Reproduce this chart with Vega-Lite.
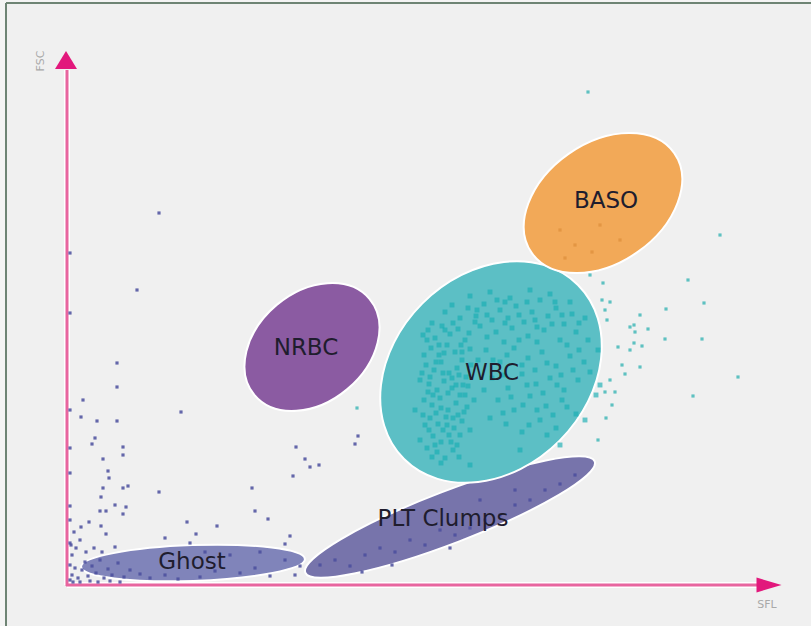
{
 "$schema": "https://vega.github.io/schema/vega-lite/v6.json",
 "width": 805, "height": 623,
 "autosize": {"type": "none"},
 "padding": {"left": 6, "top": 3, "right": 0, "bottom": 0},
 "background": "#f4f4f4",
 "config": {"view": {"stroke": null, "fill": "#f0f0f0"}},
 "datasets": {
  "ellipses": [
   {"population": "Ghost", "sfl": 126, "fsc": 22},
   {"population": "PLT Clumps", "sfl": 383, "fsc": 68},
   {"population": "NRBC", "sfl": 245, "fsc": 238},
   {"population": "WBC", "sfl": 424, "fsc": 213},
   {"population": "BASO", "sfl": 536, "fsc": 382}
  ],
  "labels": [
   {"label": "BASO", "sfl": 539, "fsc": 384},
   {"label": "WBC", "sfl": 425, "fsc": 212},
   {"label": "NRBC", "sfl": 239, "fsc": 237},
   {"label": "PLT Clumps", "sfl": 376, "fsc": 66},
   {"label": "Ghost", "sfl": 125, "fsc": 23}
  ],
  "events": [
   {"sfl":361,"fsc":255,"pop":"WBC"},{"sfl":368,"fsc":247,"pop":"WBC"},{"sfl":375,"fsc":259,"pop":"WBC"},{"sfl":383,"fsc":251,"pop":"WBC"},{"sfl":391,"fsc":256,"pop":"WBC"},{"sfl":398,"fsc":245,"pop":"WBC"},{"sfl":364,"fsc":237,"pop":"WBC"},{"sfl":372,"fsc":230,"pop":"WBC"},{"sfl":380,"fsc":240,"pop":"WBC"},{"sfl":388,"fsc":233,"pop":"WBC"},{"sfl":395,"fsc":225,"pop":"WBC"},{"sfl":403,"fsc":236,"pop":"WBC"},{"sfl":359,"fsc":220,"pop":"WBC"},{"sfl":367,"fsc":215,"pop":"WBC"},{"sfl":374,"fsc":223,"pop":"WBC"},{"sfl":382,"fsc":212,"pop":"WBC"},{"sfl":390,"fsc":217,"pop":"WBC"},{"sfl":399,"fsc":208,"pop":"WBC"},{"sfl":362,"fsc":201,"pop":"WBC"},{"sfl":370,"fsc":195,"pop":"WBC"},{"sfl":377,"fsc":204,"pop":"WBC"},{"sfl":385,"fsc":197,"pop":"WBC"},{"sfl":393,"fsc":190,"pop":"WBC"},{"sfl":401,"fsc":199,"pop":"WBC"},{"sfl":357,"fsc":185,"pop":"WBC"},{"sfl":365,"fsc":180,"pop":"WBC"},{"sfl":373,"fsc":187,"pop":"WBC"},{"sfl":381,"fsc":175,"pop":"WBC"},{"sfl":389,"fsc":182,"pop":"WBC"},{"sfl":397,"fsc":173,"pop":"WBC"},{"sfl":363,"fsc":167,"pop":"WBC"},{"sfl":371,"fsc":161,"pop":"WBC"},{"sfl":379,"fsc":168,"pop":"WBC"},{"sfl":387,"fsc":157,"pop":"WBC"},{"sfl":395,"fsc":164,"pop":"WBC"},{"sfl":366,"fsc":149,"pop":"WBC"},{"sfl":374,"fsc":143,"pop":"WBC"},{"sfl":382,"fsc":150,"pop":"WBC"},{"sfl":390,"fsc":140,"pop":"WBC"},{"sfl":370,"fsc":133,"pop":"WBC"},{"sfl":378,"fsc":127,"pop":"WBC"},{"sfl":386,"fsc":135,"pop":"WBC"},{"sfl":358,"fsc":160,"pop":"WBC"},{"sfl":403,"fsc":155,"pop":"WBC"},{"sfl":353,"fsc":205,"pop":"WBC"},{"sfl":407,"fsc":185,"pop":"WBC"},
   {"sfl":378,"fsc":273,"pop":"WBC"},{"sfl":385,"fsc":280,"pop":"WBC"},{"sfl":393,"fsc":267,"pop":"WBC"},{"sfl":401,"fsc":277,"pop":"WBC"},{"sfl":409,"fsc":269,"pop":"WBC"},{"sfl":417,"fsc":281,"pop":"WBC"},{"sfl":425,"fsc":265,"pop":"WBC"},{"sfl":433,"fsc":275,"pop":"WBC"},{"sfl":441,"fsc":267,"pop":"WBC"},{"sfl":449,"fsc":279,"pop":"WBC"},{"sfl":457,"fsc":263,"pop":"WBC"},{"sfl":465,"fsc":273,"pop":"WBC"},{"sfl":473,"fsc":285,"pop":"WBC"},{"sfl":481,"fsc":269,"pop":"WBC"},{"sfl":489,"fsc":277,"pop":"WBC"},{"sfl":497,"fsc":261,"pop":"WBC"},{"sfl":505,"fsc":271,"pop":"WBC"},{"sfl":413,"fsc":259,"pop":"WBC"},{"sfl":429,"fsc":253,"pop":"WBC"},{"sfl":445,"fsc":257,"pop":"WBC"},{"sfl":461,"fsc":249,"pop":"WBC"},{"sfl":477,"fsc":255,"pop":"WBC"},{"sfl":493,"fsc":245,"pop":"WBC"},{"sfl":509,"fsc":253,"pop":"WBC"},{"sfl":403,"fsc":289,"pop":"WBC"},{"sfl":423,"fsc":293,"pop":"WBC"},{"sfl":443,"fsc":287,"pop":"WBC"},{"sfl":463,"fsc":295,"pop":"WBC"},{"sfl":483,"fsc":291,"pop":"WBC"},{"sfl":503,"fsc":283,"pop":"WBC"},{"sfl":518,"fsc":267,"pop":"WBC"},{"sfl":521,"fsc":245,"pop":"WBC"},
   {"sfl":419,"fsc":235,"pop":"WBC"},{"sfl":433,"fsc":223,"pop":"WBC"},{"sfl":447,"fsc":237,"pop":"WBC"},{"sfl":461,"fsc":227,"pop":"WBC"},{"sfl":475,"fsc":233,"pop":"WBC"},{"sfl":489,"fsc":219,"pop":"WBC"},{"sfl":503,"fsc":229,"pop":"WBC"},{"sfl":517,"fsc":223,"pop":"WBC"},{"sfl":425,"fsc":207,"pop":"WBC"},{"sfl":441,"fsc":197,"pop":"WBC"},{"sfl":455,"fsc":211,"pop":"WBC"},{"sfl":469,"fsc":201,"pop":"WBC"},{"sfl":483,"fsc":207,"pop":"WBC"},{"sfl":497,"fsc":195,"pop":"WBC"},{"sfl":511,"fsc":205,"pop":"WBC"},{"sfl":431,"fsc":185,"pop":"WBC"},{"sfl":447,"fsc":175,"pop":"WBC"},{"sfl":463,"fsc":189,"pop":"WBC"},{"sfl":479,"fsc":179,"pop":"WBC"},{"sfl":495,"fsc":185,"pop":"WBC"},{"sfl":509,"fsc":171,"pop":"WBC"},{"sfl":439,"fsc":161,"pop":"WBC"},{"sfl":455,"fsc":153,"pop":"WBC"},{"sfl":473,"fsc":165,"pop":"WBC"},{"sfl":489,"fsc":157,"pop":"WBC"},{"sfl":523,"fsc":213,"pop":"WBC"},{"sfl":529,"fsc":190,"pop":"WBC"},{"sfl":411,"fsc":225,"pop":"WBC"},{"sfl":417,"fsc":195,"pop":"WBC"},{"sfl":423,"fsc":167,"pop":"WBC"},
   {"sfl":353,"fsc":145,"pop":"WBC"},{"sfl":348,"fsc":175,"pop":"WBC"},{"sfl":403,"fsc":120,"pop":"WBC"},{"sfl":453,"fsc":135,"pop":"WBC"},{"sfl":493,"fsc":140,"pop":"WBC"},{"sfl":518,"fsc":165,"pop":"WBC"},{"sfl":533,"fsc":200,"pop":"WBC"},{"sfl":531,"fsc":235,"pop":"WBC"},
   {"sfl":360,"fsc":245,"pop":"WBC"},{"sfl":378,"fsc":255,"pop":"WBC"},{"sfl":369,"fsc":223,"pop":"WBC"},{"sfl":385,"fsc":207,"pop":"WBC"},{"sfl":374,"fsc":177,"pop":"WBC"},{"sfl":391,"fsc":170,"pop":"WBC"},{"sfl":361,"fsc":193,"pop":"WBC"},{"sfl":380,"fsc":160,"pop":"WBC"},{"sfl":398,"fsc":190,"pop":"WBC"},{"sfl":395,"fsc":233,"pop":"WBC"},{"sfl":408,"fsc":263,"pop":"WBC"},{"sfl":438,"fsc":283,"pop":"WBC"},{"sfl":468,"fsc":265,"pop":"WBC"},{"sfl":485,"fsc":261,"pop":"WBC"},
   {"sfl":356,"fsc":250,"pop":"WBC"},{"sfl":365,"fsc":262,"pop":"WBC"},{"sfl":372,"fsc":240,"pop":"WBC"},{"sfl":386,"fsc":262,"pop":"WBC"},{"sfl":394,"fsc":240,"pop":"WBC"},{"sfl":402,"fsc":252,"pop":"WBC"},{"sfl":357,"fsc":230,"pop":"WBC"},{"sfl":377,"fsc":232,"pop":"WBC"},{"sfl":392,"fsc":210,"pop":"WBC"},{"sfl":404,"fsc":220,"pop":"WBC"},{"sfl":355,"fsc":212,"pop":"WBC"},{"sfl":363,"fsc":208,"pop":"WBC"},{"sfl":376,"fsc":212,"pop":"WBC"},{"sfl":396,"fsc":200,"pop":"WBC"},{"sfl":366,"fsc":190,"pop":"WBC"},{"sfl":381,"fsc":192,"pop":"WBC"},{"sfl":389,"fsc":200,"pop":"WBC"},{"sfl":356,"fsc":170,"pop":"WBC"},{"sfl":369,"fsc":172,"pop":"WBC"},{"sfl":386,"fsc":167,"pop":"WBC"},{"sfl":400,"fsc":178,"pop":"WBC"},{"sfl":362,"fsc":155,"pop":"WBC"},{"sfl":376,"fsc":155,"pop":"WBC"},{"sfl":393,"fsc":150,"pop":"WBC"},{"sfl":368,"fsc":140,"pop":"WBC"},{"sfl":384,"fsc":143,"pop":"WBC"},{"sfl":360,"fsc":137,"pop":"WBC"},{"sfl":374,"fsc":122,"pop":"WBC"},{"sfl":392,"fsc":128,"pop":"WBC"},{"sfl":365,"fsc":128,"pop":"WBC"},{"sfl":410,"fsc":275,"pop":"WBC"},{"sfl":420,"fsc":270,"pop":"WBC"},{"sfl":430,"fsc":285,"pop":"WBC"},{"sfl":438,"fsc":262,"pop":"WBC"},{"sfl":452,"fsc":270,"pop":"WBC"},{"sfl":460,"fsc":283,"pop":"WBC"},{"sfl":470,"fsc":258,"pop":"WBC"},{"sfl":488,"fsc":283,"pop":"WBC"},{"sfl":495,"fsc":270,"pop":"WBC"},{"sfl":512,"fsc":262,"pop":"WBC"},{"sfl":420,"fsc":248,"pop":"WBC"},{"sfl":437,"fsc":243,"pop":"WBC"},{"sfl":452,"fsc":245,"pop":"WBC"},{"sfl":470,"fsc":243,"pop":"WBC"},{"sfl":500,"fsc":240,"pop":"WBC"},{"sfl":512,"fsc":235,"pop":"WBC"},{"sfl":426,"fsc":225,"pop":"WBC"},{"sfl":440,"fsc":230,"pop":"WBC"},{"sfl":455,"fsc":220,"pop":"WBC"},{"sfl":468,"fsc":215,"pop":"WBC"},{"sfl":480,"fsc":222,"pop":"WBC"},{"sfl":494,"fsc":210,"pop":"WBC"},{"sfl":506,"fsc":215,"pop":"WBC"},{"sfl":436,"fsc":210,"pop":"WBC"},{"sfl":460,"fsc":200,"pop":"WBC"},{"sfl":476,"fsc":192,"pop":"WBC"},{"sfl":490,"fsc":200,"pop":"WBC"},{"sfl":444,"fsc":188,"pop":"WBC"},{"sfl":456,"fsc":180,"pop":"WBC"},{"sfl":470,"fsc":175,"pop":"WBC"},{"sfl":486,"fsc":170,"pop":"WBC"},{"sfl":500,"fsc":178,"pop":"WBC"},{"sfl":436,"fsc":172,"pop":"WBC"},{"sfl":462,"fsc":160,"pop":"WBC"},{"sfl":480,"fsc":150,"pop":"WBC"},
   {"sfl":653,"fsc":350,"pop":"WBC scatter"},{"sfl":621,"fsc":305,"pop":"WBC scatter"},{"sfl":637,"fsc":282,"pop":"WBC scatter"},{"sfl":599,"fsc":276,"pop":"WBC scatter"},{"sfl":573,"fsc":270,"pop":"WBC scatter"},{"sfl":581,"fsc":256,"pop":"WBC scatter"},{"sfl":567,"fsc":260,"pop":"WBC scatter"},{"sfl":563,"fsc":258,"pop":"WBC scatter"},{"sfl":568,"fsc":253,"pop":"WBC scatter"},{"sfl":598,"fsc":246,"pop":"WBC scatter"},{"sfl":635,"fsc":246,"pop":"WBC scatter"},{"sfl":575,"fsc":239,"pop":"WBC scatter"},{"sfl":567,"fsc":242,"pop":"WBC scatter"},{"sfl":551,"fsc":238,"pop":"WBC scatter"},{"sfl":555,"fsc":220,"pop":"WBC scatter"},{"sfl":573,"fsc":218,"pop":"WBC scatter"},{"sfl":558,"fsc":211,"pop":"WBC scatter"},{"sfl":543,"fsc":205,"pop":"WBC scatter"},{"sfl":671,"fsc":208,"pop":"WBC scatter"},{"sfl":626,"fsc":189,"pop":"WBC scatter"},{"sfl":538,"fsc":193,"pop":"WBC scatter"},{"sfl":548,"fsc":193,"pop":"WBC scatter"},{"sfl":536,"fsc":302,"pop":"WBC scatter"},{"sfl":543,"fsc":283,"pop":"WBC scatter"},{"sfl":535,"fsc":285,"pop":"WBC scatter"},{"sfl":540,"fsc":265,"pop":"WBC scatter"},{"sfl":538,"fsc":275,"pop":"WBC scatter"},{"sfl":523,"fsc":310,"pop":"WBC scatter"},{"sfl":521,"fsc":493,"pop":"WBC scatter"},{"sfl":290,"fsc":177,"pop":"WBC scatter"},{"sfl":545,"fsc":180,"pop":"WBC scatter"},{"sfl":539,"fsc":167,"pop":"WBC scatter"},{"sfl":531,"fsc":145,"pop":"WBC scatter"},{"sfl":563,"fsc":235,"pop":"WBC scatter"},
   {"sfl":493,"fsc":355,"pop":"BASO"},{"sfl":508,"fsc":340,"pop":"BASO"},{"sfl":525,"fsc":333,"pop":"BASO"},{"sfl":553,"fsc":345,"pop":"BASO"},{"sfl":498,"fsc":327,"pop":"BASO"},{"sfl":533,"fsc":360,"pop":"BASO"},
   {"sfl":50,"fsc":198,"pop":"Debris"},{"sfl":16,"fsc":185,"pop":"Debris"},{"sfl":14,"fsc":168,"pop":"Debris"},{"sfl":30,"fsc":164,"pop":"Debris"},{"sfl":50,"fsc":164,"pop":"Debris"},{"sfl":114,"fsc":173,"pop":"Debris"},{"sfl":28,"fsc":147,"pop":"Debris"},{"sfl":25,"fsc":141,"pop":"Debris"},{"sfl":56,"fsc":138,"pop":"Debris"},{"sfl":56,"fsc":130,"pop":"Debris"},{"sfl":36,"fsc":126,"pop":"Debris"},{"sfl":41,"fsc":114,"pop":"Debris"},{"sfl":42,"fsc":107,"pop":"Debris"},{"sfl":36,"fsc":97,"pop":"Debris"},{"sfl":56,"fsc":97,"pop":"Debris"},{"sfl":61,"fsc":99,"pop":"Debris"},{"sfl":34,"fsc":88,"pop":"Debris"},{"sfl":48,"fsc":80,"pop":"Debris"},{"sfl":59,"fsc":78,"pop":"Debris"},{"sfl":33,"fsc":74,"pop":"Debris"},{"sfl":39,"fsc":74,"pop":"Debris"},{"sfl":56,"fsc":71,"pop":"Debris"},{"sfl":22,"fsc":63,"pop":"Debris"},{"sfl":14,"fsc":58,"pop":"Debris"},{"sfl":34,"fsc":59,"pop":"Debris"},{"sfl":39,"fsc":51,"pop":"Debris"},{"sfl":92,"fsc":93,"pop":"Debris"},{"sfl":120,"fsc":63,"pop":"Debris"},{"sfl":129,"fsc":51,"pop":"Debris"},{"sfl":150,"fsc":59,"pop":"Debris"},{"sfl":98,"fsc":47,"pop":"Debris"},{"sfl":123,"fsc":42,"pop":"Debris"},{"sfl":48,"fsc":38,"pop":"Debris"},{"sfl":185,"fsc":97,"pop":"Debris"},{"sfl":188,"fsc":74,"pop":"Debris"},{"sfl":201,"fsc":66,"pop":"Debris"},{"sfl":229,"fsc":138,"pop":"Debris"},{"sfl":238,"fsc":126,"pop":"Debris"},{"sfl":243,"fsc":118,"pop":"Debris"},{"sfl":252,"fsc":120,"pop":"Debris"},{"sfl":226,"fsc":109,"pop":"Debris"},{"sfl":288,"fsc":141,"pop":"Debris"},{"sfl":291,"fsc":149,"pop":"Debris"},{"sfl":223,"fsc":49,"pop":"Debris"},{"sfl":218,"fsc":41,"pop":"Debris"},{"sfl":92,"fsc":372,"pop":"Debris"},{"sfl":70,"fsc":295,"pop":"Debris"},{"sfl":50,"fsc":222,"pop":"Debris"},
   {"sfl":3,"fsc":332,"pop":"Debris"},{"sfl":3,"fsc":272,"pop":"Debris"},{"sfl":3,"fsc":175,"pop":"Debris"},{"sfl":3,"fsc":137,"pop":"Debris"},{"sfl":3,"fsc":112,"pop":"Debris"},{"sfl":3,"fsc":79,"pop":"Debris"},{"sfl":3,"fsc":42,"pop":"Debris"},
   {"sfl":5,"fsc":10,"pop":"Debris"},{"sfl":8,"fsc":17,"pop":"Debris"},{"sfl":11,"fsc":7,"pop":"Debris"},{"sfl":15,"fsc":15,"pop":"Debris"},{"sfl":18,"fsc":23,"pop":"Debris"},{"sfl":21,"fsc":9,"pop":"Debris"},{"sfl":25,"fsc":19,"pop":"Debris"},{"sfl":29,"fsc":12,"pop":"Debris"},{"sfl":33,"fsc":25,"pop":"Debris"},{"sfl":37,"fsc":7,"pop":"Debris"},{"sfl":41,"fsc":16,"pop":"Debris"},{"sfl":45,"fsc":10,"pop":"Debris"},{"sfl":51,"fsc":22,"pop":"Debris"},{"sfl":57,"fsc":8,"pop":"Debris"},{"sfl":63,"fsc":15,"pop":"Debris"},{"sfl":5,"fsc":30,"pop":"Debris"},{"sfl":9,"fsc":37,"pop":"Debris"},{"sfl":13,"fsc":45,"pop":"Debris"},{"sfl":7,"fsc":53,"pop":"Debris"},{"sfl":19,"fsc":33,"pop":"Debris"},{"sfl":27,"fsc":37,"pop":"Debris"},{"sfl":35,"fsc":33,"pop":"Debris"},{"sfl":73,"fsc":11,"pop":"Debris"},{"sfl":83,"fsc":7,"pop":"Debris"},{"sfl":98,"fsc":10,"pop":"Debris"},{"sfl":111,"fsc":6,"pop":"Debris"},{"sfl":133,"fsc":8,"pop":"Debris"},{"sfl":148,"fsc":14,"pop":"Debris"},{"sfl":173,"fsc":12,"pop":"Debris"},{"sfl":188,"fsc":17,"pop":"Debris"},{"sfl":203,"fsc":9,"pop":"Debris"},{"sfl":218,"fsc":25,"pop":"Debris"},{"sfl":228,"fsc":10,"pop":"Debris"},{"sfl":163,"fsc":30,"pop":"Debris"},{"sfl":193,"fsc":33,"pop":"Debris"},{"sfl":138,"fsc":33,"pop":"Debris"},{"sfl":3,"fsc":5,"pop":"Debris"},{"sfl":6,"fsc":3,"pop":"Debris"},{"sfl":13,"fsc":3,"pop":"Debris"},{"sfl":23,"fsc":4,"pop":"Debris"},{"sfl":31,"fsc":3,"pop":"Debris"},{"sfl":43,"fsc":4,"pop":"Debris"},{"sfl":53,"fsc":3,"pop":"Debris"},{"sfl":3,"fsc":20,"pop":"Debris"},{"sfl":4,"fsc":40,"pop":"Debris"},{"sfl":3,"fsc":65,"pop":"Debris"},
   {"sfl":253,"fsc":20,"pop":"Debris"},{"sfl":268,"fsc":25,"pop":"Debris"},{"sfl":283,"fsc":19,"pop":"Debris"},{"sfl":298,"fsc":30,"pop":"Debris"},{"sfl":313,"fsc":37,"pop":"Debris"},{"sfl":328,"fsc":33,"pop":"Debris"},{"sfl":343,"fsc":45,"pop":"Debris"},{"sfl":358,"fsc":40,"pop":"Debris"},{"sfl":373,"fsc":55,"pop":"Debris"},{"sfl":388,"fsc":50,"pop":"Debris"},{"sfl":403,"fsc":57,"pop":"Debris"},{"sfl":418,"fsc":65,"pop":"Debris"},{"sfl":433,"fsc":70,"pop":"Debris"},{"sfl":448,"fsc":80,"pop":"Debris"},{"sfl":463,"fsc":85,"pop":"Debris"},{"sfl":478,"fsc":95,"pop":"Debris"},{"sfl":493,"fsc":101,"pop":"Debris"},{"sfl":508,"fsc":110,"pop":"Debris"},{"sfl":295,"fsc":13,"pop":"Debris"},{"sfl":325,"fsc":20,"pop":"Debris"},{"sfl":383,"fsc":37,"pop":"Debris"},{"sfl":233,"fsc":19,"pop":"Debris"},{"sfl":448,"fsc":95,"pop":"Debris"},{"sfl":413,"fsc":85,"pop":"Debris"}
  ]
 },
 "layer": [
  {
   "data": {"values": [{}]},
   "mark": {"type": "rule", "color": "#6e8474", "strokeWidth": 2},
   "encoding": {
    "x": {"datum": -61, "type": "quantitative", "scale": {"domain": [-61, 744], "nice": false, "zero": false}, "axis": null},
    "y": {"datum": -41, "type": "quantitative", "scale": {"domain": [-41, 582], "nice": false, "zero": false}, "axis": null},
    "y2": {"datum": 582}
   }
  },
  {
   "data": {"values": [{}]},
   "mark": {"type": "rule", "color": "#6e8474", "strokeWidth": 2},
   "encoding": {
    "x": {"datum": -61, "type": "quantitative", "scale": {"domain": [-61, 744], "nice": false, "zero": false}, "axis": null},
    "x2": {"datum": 744},
    "y": {"datum": 582, "type": "quantitative", "scale": {"domain": [-41, 582], "nice": false, "zero": false}, "axis": null}
   }
  },
  {
   "data": {"values": [{}]},
   "mark": {"type": "rule", "color": "#ffffff", "strokeWidth": 6},
   "encoding": {
    "x": {"datum": 0, "type": "quantitative", "scale": {"domain": [-61, 744], "nice": false, "zero": false}, "axis": null},
    "y": {"datum": 0, "type": "quantitative", "scale": {"domain": [-41, 582], "nice": false, "zero": false}, "axis": null},
    "y2": {"datum": 515}
   }
  },
  {
   "data": {"values": [{}]},
   "mark": {"type": "rule", "color": "#ffffff", "strokeWidth": 6},
   "encoding": {
    "x": {"datum": 0, "type": "quantitative", "scale": {"domain": [-61, 744], "nice": false, "zero": false}, "axis": null},
    "x2": {"datum": 695},
    "y": {"datum": 0, "type": "quantitative", "scale": {"domain": [-41, 582], "nice": false, "zero": false}, "axis": null}
   }
  },
  {
   "data": {"values": [{}]},
   "mark": {"type": "rule", "color": "#e8659f", "strokeWidth": 3},
   "encoding": {
    "x": {"datum": 0, "type": "quantitative", "scale": {"domain": [-61, 744], "nice": false, "zero": false}, "axis": null},
    "y": {"datum": -1, "type": "quantitative", "scale": {"domain": [-41, 582], "nice": false, "zero": false}, "axis": null},
    "y2": {"datum": 515}
   }
  },
  {
   "data": {"values": [{}]},
   "mark": {"type": "rule", "color": "#e8659f", "strokeWidth": 3},
   "encoding": {
    "x": {"datum": -1, "type": "quantitative", "scale": {"domain": [-61, 744], "nice": false, "zero": false}, "axis": null},
    "x2": {"datum": 695},
    "y": {"datum": 0, "type": "quantitative", "scale": {"domain": [-41, 582], "nice": false, "zero": false}, "axis": null}
   }
  },
  {
   "data": {"values": [{}]},
   "mark": {"type": "point", "filled": true, "opacity": 1, "color": "#e2187c", "shape": "M-1,-0.6L1,0L-1,0.6Z", "size": 625},
   "encoding": {
    "x": {"datum": 702, "type": "quantitative", "scale": {"domain": [-61, 744], "nice": false, "zero": false}, "axis": null},
    "y": {"datum": 0, "type": "quantitative", "scale": {"domain": [-41, 582], "nice": false, "zero": false}, "axis": null}
   }
  },
  {
   "data": {"values": [{}]},
   "mark": {"type": "point", "filled": true, "opacity": 1, "color": "#e2187c", "shape": "M-1,0.82L0,-0.82L1,0.82Z", "size": 484},
   "encoding": {
    "x": {"datum": -1, "type": "quantitative", "scale": {"domain": [-61, 744], "nice": false, "zero": false}, "axis": null},
    "y": {"datum": 525, "type": "quantitative", "scale": {"domain": [-41, 582], "nice": false, "zero": false}, "axis": null}
   }
  },
  {
   "data": {"values": [{}]},
   "mark": {"type": "text", "text": "SFL", "font": "DejaVu Sans", "fontSize": 11, "color": "#a9a9a9", "align": "center", "baseline": "middle"},
   "encoding": {
    "x": {"datum": 700, "type": "quantitative", "scale": {"domain": [-61, 744], "nice": false, "zero": false}, "axis": null},
    "y": {"datum": -20, "type": "quantitative", "scale": {"domain": [-41, 582], "nice": false, "zero": false}, "axis": null}
   }
  },
  {
   "data": {"values": [{}]},
   "mark": {"type": "text", "text": "FSC", "font": "DejaVu Sans", "fontSize": 11, "color": "#a9a9a9", "align": "center", "baseline": "middle", "angle": 270},
   "encoding": {
    "x": {"datum": -26, "type": "quantitative", "scale": {"domain": [-61, 744], "nice": false, "zero": false}, "axis": null},
    "y": {"datum": 524, "type": "quantitative", "scale": {"domain": [-41, 582], "nice": false, "zero": false}, "axis": null}
   }
  },
  {
   "data": {"name": "ellipses"},
   "transform": [{"filter": "datum.population === 'Ghost'"}],
   "mark": {"type": "point", "filled": true, "opacity": 1, "fill": "#8084ba", "stroke": "#ffffff", "strokeWidth": 2, "size": 50176, "angle": 358, "shape": "M1,0C1,0.088 0.552,0.16 0,0.16C-0.552,0.16 -1,0.088 -1,0C-1,-0.088 -0.552,-0.16 0,-0.16C0.552,-0.16 1,-0.088 1,0Z"},
   "encoding": {
    "x": {"field": "sfl", "type": "quantitative", "scale": {"domain": [-61, 744], "nice": false, "zero": false}, "axis": null},
    "y": {"field": "fsc", "type": "quantitative", "scale": {"domain": [-41, 582], "nice": false, "zero": false}, "axis": null}
   }
  },
  {
   "data": {"name": "ellipses"},
   "transform": [{"filter": "datum.population === 'PLT Clumps'"}],
   "mark": {"type": "point", "filled": true, "opacity": 1, "fill": "#7774ab", "stroke": "#ffffff", "strokeWidth": 2, "size": 96100, "angle": 339, "shape": "M1,0C1,0.093 0.552,0.168 0,0.168C-0.552,0.168 -1,0.093 -1,0C-1,-0.093 -0.552,-0.168 0,-0.168C0.552,-0.168 1,-0.093 1,0Z"},
   "encoding": {
    "x": {"field": "sfl", "type": "quantitative", "scale": {"domain": [-61, 744], "nice": false, "zero": false}, "axis": null},
    "y": {"field": "fsc", "type": "quantitative", "scale": {"domain": [-41, 582], "nice": false, "zero": false}, "axis": null}
   }
  },
  {
   "data": {"name": "ellipses"},
   "transform": [{"filter": "datum.population === 'NRBC'"}],
   "mark": {"type": "point", "filled": true, "opacity": 1, "fill": "#8b5ba2", "stroke": "#ffffff", "strokeWidth": 2, "size": 22500, "angle": 320, "shape": "M1,0C1,0.405 0.552,0.733 0,0.733C-0.552,0.733 -1,0.405 -1,0C-1,-0.405 -0.552,-0.733 0,-0.733C0.552,-0.733 1,-0.405 1,0Z"},
   "encoding": {
    "x": {"field": "sfl", "type": "quantitative", "scale": {"domain": [-61, 744], "nice": false, "zero": false}, "axis": null},
    "y": {"field": "fsc", "type": "quantitative", "scale": {"domain": [-41, 582], "nice": false, "zero": false}, "axis": null}
   }
  },
  {
   "data": {"name": "ellipses"},
   "transform": [{"filter": "datum.population === 'WBC'"}],
   "mark": {"type": "point", "filled": true, "opacity": 1, "fill": "#5cbfc5", "stroke": "#ffffff", "strokeWidth": 2, "size": 60516, "angle": 315, "shape": "M1,0C1,0.436 0.552,0.789 0,0.789C-0.552,0.789 -1,0.436 -1,0C-1,-0.436 -0.552,-0.789 0,-0.789C0.552,-0.789 1,-0.436 1,0Z"},
   "encoding": {
    "x": {"field": "sfl", "type": "quantitative", "scale": {"domain": [-61, 744], "nice": false, "zero": false}, "axis": null},
    "y": {"field": "fsc", "type": "quantitative", "scale": {"domain": [-41, 582], "nice": false, "zero": false}, "axis": null}
   }
  },
  {
   "data": {"name": "ellipses"},
   "transform": [{"filter": "datum.population === 'BASO'"}],
   "mark": {"type": "point", "filled": true, "opacity": 1, "fill": "#f2a958", "stroke": "#ffffff", "strokeWidth": 2, "size": 30276, "angle": 325, "shape": "M1,0C1,0.381 0.552,0.69 0,0.69C-0.552,0.69 -1,0.381 -1,0C-1,-0.381 -0.552,-0.69 0,-0.69C0.552,-0.69 1,-0.381 1,0Z"},
   "encoding": {
    "x": {"field": "sfl", "type": "quantitative", "scale": {"domain": [-61, 744], "nice": false, "zero": false}, "axis": null},
    "y": {"field": "fsc", "type": "quantitative", "scale": {"domain": [-41, 582], "nice": false, "zero": false}, "axis": null}
   }
  },
  {
   "data": {"name": "events"},
   "transform": [{"filter": "datum.pop === 'WBC'"}],
   "mark": {"type": "point", "filled": true, "shape": "square", "size": 24, "opacity": 0.65, "color": "#17adb2"},
   "encoding": {
    "x": {"field": "sfl", "type": "quantitative", "scale": {"domain": [-61, 744], "nice": false, "zero": false}, "axis": null},
    "y": {"field": "fsc", "type": "quantitative", "scale": {"domain": [-41, 582], "nice": false, "zero": false}, "axis": null}
   }
  },
  {
   "data": {"name": "events"},
   "transform": [{"filter": "datum.pop !== 'WBC'"}],
   "mark": {"type": "point", "filled": true, "shape": "square", "size": 10, "opacity": 0.85},
   "encoding": {
    "x": {"field": "sfl", "type": "quantitative", "scale": {"domain": [-61, 744], "nice": false, "zero": false}, "axis": null},
    "y": {"field": "fsc", "type": "quantitative", "scale": {"domain": [-41, 582], "nice": false, "zero": false}, "axis": null},
    "color": {"field": "pop", "type": "nominal", "scale": {"domain": ["WBC", "WBC scatter", "Debris", "BASO"], "range": ["#1cafb3", "#44b9b9", "#4a4e9e", "#e0933f"]}, "legend": null}
   }
  },
  {
   "data": {"name": "labels"},
   "mark": {"type": "text", "font": "DejaVu Sans", "fontSize": 23, "color": "#1f1d2e", "align": "center", "baseline": "middle"},
   "encoding": {
    "x": {"field": "sfl", "type": "quantitative", "scale": {"domain": [-61, 744], "nice": false, "zero": false}, "axis": null},
    "y": {"field": "fsc", "type": "quantitative", "scale": {"domain": [-41, 582], "nice": false, "zero": false}, "axis": null},
    "text": {"field": "label", "type": "nominal"}
   }
  }
 ]
}
